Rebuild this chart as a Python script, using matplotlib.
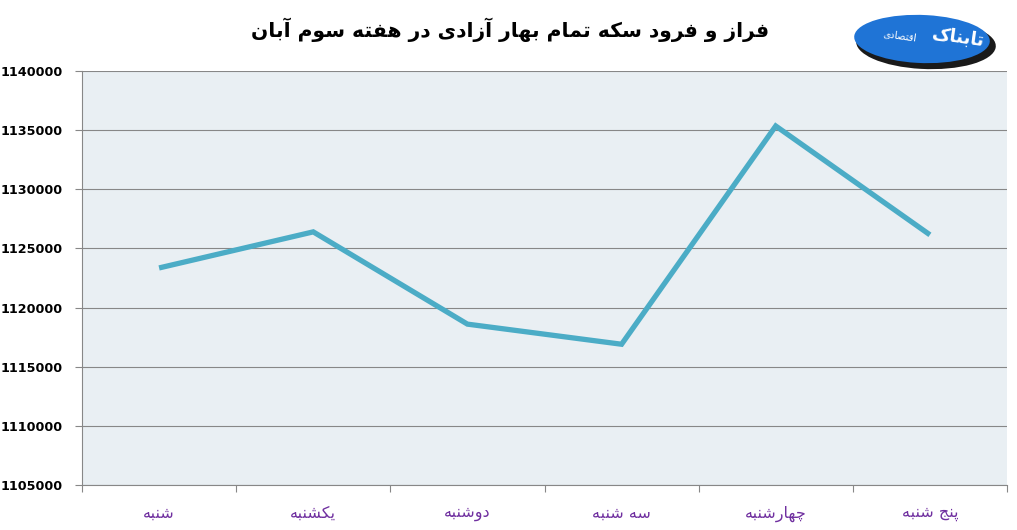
import matplotlib
matplotlib.use("Agg")
import matplotlib.pyplot as plt
from matplotlib.patches import Ellipse

# ---------------- data ----------------
days = ["شنبه", "یکشنبه", "دوشنبه", "سه شنبه", "چهارشنبه", "پنج شنبه"]
prices = [1123350, 1126400, 1118600, 1116900, 1135350, 1126150]
y_ticks = [1105000, 1110000, 1115000, 1120000, 1125000, 1130000, 1135000, 1140000]
title_text = "فراز و فرود سکه تمام بهار آزادی در هفته سوم آبان"
logo_text = "تابناک"
logo_sub = "اقتصادی"

# ---------------- simple Arabic/Persian shaping ----------------
FORMS = {
    'ا': ('\uFE8D', '\uFE8E', None, None),
    'آ': ('\uFE81', '\uFE82', None, None),
    'ب': ('\uFE8F', '\uFE90', '\uFE91', '\uFE92'),
    'پ': ('\uFB56', '\uFB57', '\uFB58', '\uFB59'),
    'ت': ('\uFE95', '\uFE96', '\uFE97', '\uFE98'),
    'ج': ('\uFE9D', '\uFE9E', '\uFE9F', '\uFEA0'),
    'چ': ('\uFB7A', '\uFB7B', '\uFB7C', '\uFB7D'),
    'د': ('\uFEA9', '\uFEAA', None, None),
    'ر': ('\uFEAD', '\uFEAE', None, None),
    'ز': ('\uFEAF', '\uFEB0', None, None),
    'س': ('\uFEB1', '\uFEB2', '\uFEB3', '\uFEB4'),
    'ش': ('\uFEB5', '\uFEB6', '\uFEB7', '\uFEB8'),
    'ص': ('\uFEB9', '\uFEBA', '\uFEBB', '\uFEBC'),
    'ف': ('\uFED1', '\uFED2', '\uFED3', '\uFED4'),
    'ق': ('\uFED5', '\uFED6', '\uFED7', '\uFED8'),
    'ک': ('\uFB8E', '\uFB8F', '\uFB90', '\uFB91'),
    'ل': ('\uFEDD', '\uFEDE', '\uFEDF', '\uFEE0'),
    'م': ('\uFEE1', '\uFEE2', '\uFEE3', '\uFEE4'),
    'ن': ('\uFEE5', '\uFEE6', '\uFEE7', '\uFEE8'),
    'ه': ('\uFEE9', '\uFEEA', '\uFEEB', '\uFEEC'),
    'و': ('\uFEED', '\uFEEE', None, None),
    'ی': ('\uFBFC', '\uFBFD', '\uFBFE', '\uFBFF'),
}


def shape(text):
    out = []
    n = len(text)
    for i, ch in enumerate(text):
        if ch not in FORMS:
            out.append(ch)
            continue
        prev = text[i - 1] if i > 0 else None
        nxt = text[i + 1] if i < n - 1 else None
        join_prev = prev in FORMS and FORMS[prev][2] is not None
        join_next = nxt in FORMS and FORMS[ch][2] is not None
        iso, fin, ini, med = FORMS[ch]
        if join_prev and join_next:
            out.append(med)
        elif join_prev:
            out.append(fin)
        elif join_next:
            out.append(ini)
        else:
            out.append(iso)
    return "".join(reversed(out))


# ---------------- figure ----------------
fig = plt.figure(figsize=(10.17, 5.30), dpi=100)
ax = fig.add_axes([82 / 1017, 45 / 530, 925 / 1017, 414 / 530])
ax.set_facecolor("#E9EFF3")

x = list(range(len(days)))
ax.plot(x, prices, color="#4BACC6", linewidth=3.8, solid_joinstyle="miter",
        solid_capstyle="butt", zorder=3)

ax.set_ylim(y_ticks[0], y_ticks[-1])
ax.set_yticks(y_ticks)
ax.set_yticklabels([str(v) for v in y_ticks], fontweight="bold", fontsize=9.2,
                   family="DejaVu Sans")
ax.yaxis.grid(True, color="#878787", linewidth=0.8)
ax.set_axisbelow(True)

ax.set_xlim(-0.5, len(days) - 0.5)
ax.set_xticks([i - 0.5 for i in range(len(days) + 1)])
ax.set_xticklabels([])
ax.set_xticks(x, minor=True)
ax.set_xticklabels([shape(d) for d in days], minor=True, color="#7030A0",
                   fontsize=11.5, family="DejaVu Sans")
ax.tick_params(axis="x", which="minor", length=0, pad=15)
ax.tick_params(axis="x", which="major", length=5, color="#878787", width=0.8)
ax.tick_params(axis="y", length=5, color="#878787", width=0.8, pad=9)

for s in ["top", "right"]:
    ax.spines[s].set_visible(False)
for s in ["left", "bottom"]:
    ax.spines[s].set_color("#878787")
    ax.spines[s].set_linewidth(0.8)

fig.text(510 / 1017, 1 - 30 / 530, shape(title_text), ha="center", va="center",
         fontsize=14.6, fontweight="bold", family="DejaVu Sans")

# logo
fig.patches.append(Ellipse((926 / 1017, 1 - 44 / 530), 140 / 1017, 50 / 530,
                           angle=-6, transform=fig.transFigure,
                           facecolor="#1a1a1a", zorder=1))
fig.patches.append(Ellipse((922 / 1017, 1 - 39 / 530), 136 / 1017, 48 / 530,
                           angle=-6, transform=fig.transFigure,
                           facecolor="#1F74D6", zorder=2))
fig.text(958 / 1017, 1 - 38 / 530, shape(logo_text), ha="center", va="center",
         fontsize=13, fontweight="bold", color="white", family="DejaVu Sans",
         rotation=-8, zorder=3)
fig.text(900 / 1017, 1 - 36 / 530, shape(logo_sub), ha="center", va="center",
         fontsize=7, color="white", family="DejaVu Sans", rotation=-8, zorder=3)

fig.savefig("out.png", dpi=100)
